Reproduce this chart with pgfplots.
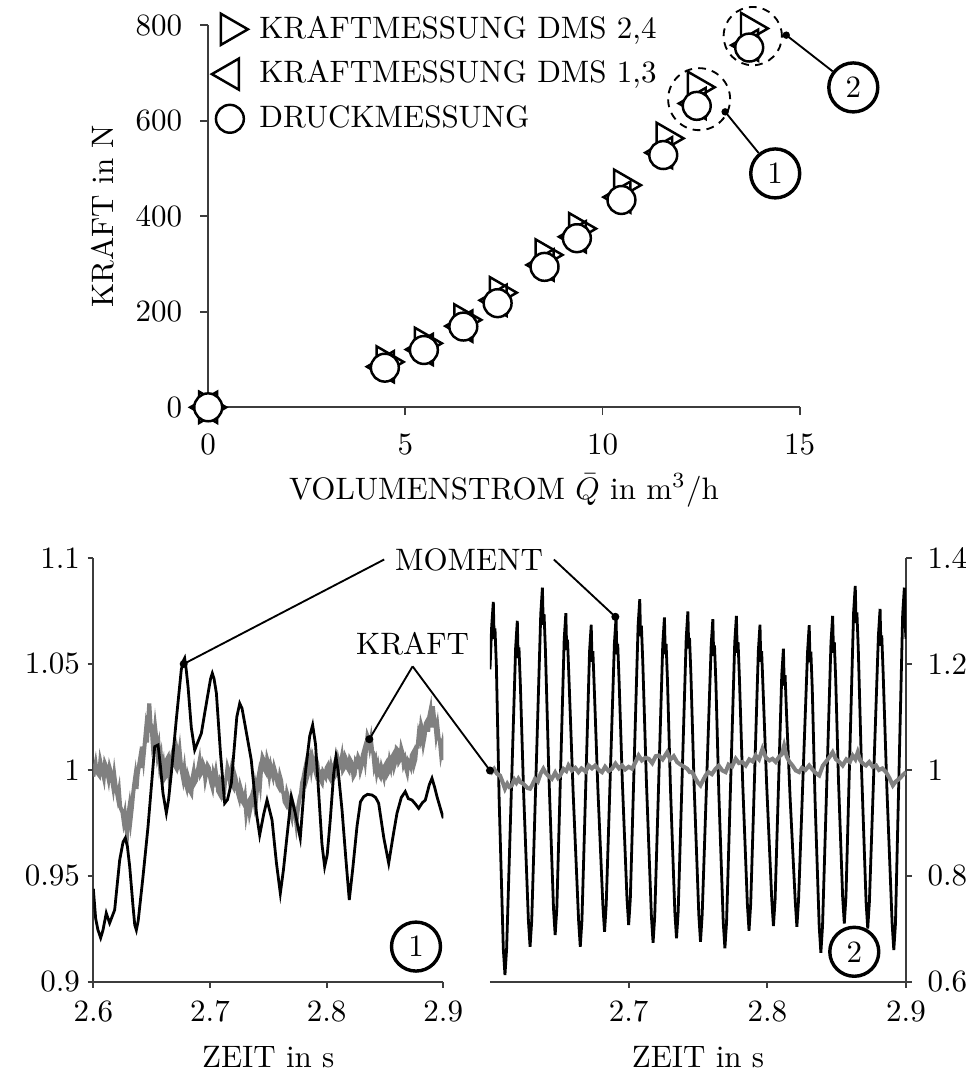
\documentclass[border=0pt]{standalone}
\usepackage{pgfplots}
\pgfplotsset{compat=1.18}
\definecolor{axgray}{RGB}{60,60,60}
\definecolor{kraftgray}{RGB}{128,128,128}
\begin{document}
\begin{tikzpicture}
\useasboundingbox (0,0) rectangle (311.3pt,347.1pt);
\pgfplotsset{
  every non boxed x axis/.append style={x axis line style={-}, xtick align=outside},
  every non boxed y axis/.append style={y axis line style={-}, ytick align=outside},
  myaxis/.style={
    scale only axis, anchor=south west,
    axis line style={-, line width=0.6pt, axgray},
    every tick/.style={line width=0.6pt, axgray},
    tick align=outside,
    enlargelimits=false,
  }
}
% ---------------- top axis ----------------
\begin{axis}[myaxis, at={(67.16pt,215.7pt)}, width=190.8pt, height=123.3pt,
  xmin=0, xmax=15, ymin=0, ymax=800,
  axis x line=bottom, axis y line=left, clip=false,
  major tick length=2.5pt,
  xtick={0,5,10,15}, ytick={0,200,400,600,800},
  xticklabel style={yshift=-2.7pt},
  yticklabel style={xshift=-2.4pt},
  xlabel={VOLUMENSTROM $\bar{Q}$ in m$^3$/h},
  ylabel={KRAFT in N},
  every axis x label/.style={at={(axis description cs:0.5,-0.2401)},anchor=base},
  every axis y label/.style={at={(axis description cs:-0.1593,0.5)},rotate=90,anchor=base},
  legend style={draw=none, fill=none, at={([xshift=1pt]axis description cs:0,1.042)}, anchor=north west, row sep=1.8pt, inner sep=0pt,
    /tikz/every odd column/.append style={column sep=1.7pt}},
  legend cell align=left,
]
\addplot[only marks, mark=triangle, mark size=5.8pt, mark options={rotate=-90, fill=white, draw=black, line width=0.8pt}]
 table {
0 0
4.50 95
5.47 134
6.47 183
7.37 240
8.53 319
9.38 374
10.52 465
11.60 563
12.39 670
13.74 793
};
\addlegendentry{KRAFTMESSUNG DMS 2,4}
\addplot[only marks, mark=triangle, mark size=5.8pt, mark options={rotate=90, fill=white, draw=black, line width=0.8pt}]
 table {
0 0
4.48 85
5.47 121
6.47 170
7.34 224
8.53 298
9.35 357
10.48 440
11.54 533
12.39 636
13.72 758
};
\addlegendentry{KRAFTMESSUNG DMS 1,3}
\addplot[only marks, mark=*, mark size=4.5pt, mark options={fill=white, draw=black, line width=0.8pt}]
 table {
0 0
4.48 83
5.47 120
6.47 169
7.34 218
8.53 294
9.35 354
10.48 434
11.54 528
12.39 631
13.72 753
};
\addlegendentry{DRUCKMESSUNG}
\draw[dashed, dash pattern=on 2.5pt off 2pt, line width=0.6pt] (axis cs:12.45,645) circle[radius=10pt];
\draw[dashed, dash pattern=on 2.5pt off 2pt, line width=0.6pt] (axis cs:13.81,777) circle[radius=9.4pt];
\node[draw, circle, line width=1.1pt, minimum size=15.8pt, inner sep=0pt] (ct1) at (axis cs:14.38,489.6) {1};
\node[draw, circle, line width=1.1pt, minimum size=15.8pt, inner sep=0pt] (ct2) at (axis cs:16.36,669.6) {2};
\draw[line width=0.6pt] (axis cs:13.11,618.5) -- (ct1);
\draw[line width=0.6pt] (axis cs:14.66,779) -- (ct2);
\fill (axis cs:13.11,618.5) circle[radius=1.2pt];
\fill (axis cs:14.66,779) circle[radius=1.2pt];
\end{axis}
% ---------------- bottom left axis ----------------
\begin{axis}[myaxis, at={(30.1pt,30.32pt)}, width=112.9pt, height=136.8pt,
  xmin=2.6, xmax=2.9, ymin=0.9, ymax=1.1,
  axis x line=bottom, axis y line=left,
  major tick length=1.8pt,
  xtick={2.6,2.7,2.8,2.9}, xticklabels={2.6,2.7,2.8,2.9},
  ytick={0.9,0.95,1,1.05,1.1}, yticklabels={0.9,0.95,1,1.05,1.1},
  xticklabel style={yshift=-0.8pt},
  yticklabel style={xshift=1pt},
  xlabel={ZEIT in s},
  every axis x label/.style={at={(axis description cs:0.5,-0.2027)},anchor=base},
]
\addplot[kraftgray, line width=1.3pt] table {
2.600 0.9969
2.602 1.0030
2.603 0.9990
2.605 0.9975
2.606 1.0040
2.607 1.0015
2.609 0.9965
2.610 1.0030
2.611 1.0016
2.613 0.9960
2.614 1.0010
2.615 0.9990
2.617 0.9921
2.618 0.9975
2.619 0.9930
2.621 0.9870
2.622 0.9900
2.623 0.9827
2.625 0.9800
2.626 0.9760
2.627 0.9790
2.628 0.9730
2.629 0.9700
2.630 0.9790
2.631 0.9827
2.632 0.9770
2.633 0.9820
2.634 0.9880
2.635 0.9930
2.636 0.9969
2.637 0.9910
2.638 0.9980
2.640 1.0050
2.641 1.0010
2.642 1.0110
2.643 1.0060
2.644 1.0120
2.645 1.0180
2.646 1.0130
2.647 1.0236
2.648 1.0314
2.649 1.0220
2.650 1.0200
2.651 1.0120
2.652 1.0142
2.653 1.0200
2.654 1.0150
2.655 1.0080
2.656 1.0110
2.657 1.0030
2.658 1.0060
2.659 0.9990
2.660 1.0020
2.661 0.9960
2.662 0.9969
2.663 1.0050
2.664 1.0060
2.665 0.9990
2.666 1.0030
2.667 1.0047
2.668 1.0080
2.669 1.0100
2.670 1.0020
2.671 1.0010
2.672 1.0080
2.673 1.0050
2.674 1.0090
2.675 1.0030
2.676 0.9990
2.677 0.9960
2.678 1.0000
2.679 0.9940
2.680 0.9920
2.681 0.9970
2.682 0.9950
2.683 0.9900
2.684 0.9890
2.685 0.9960
2.686 0.9990
2.687 0.9940
2.688 0.9950
2.689 0.9990
2.690 1.0010
2.691 1.0040
2.692 0.9980
2.693 0.9990
2.694 1.0030
2.695 1.0016
2.696 0.9960
2.697 0.9990
2.698 1.0020
2.699 1.0010
2.700 0.9969
2.701 0.9940
2.702 0.9920
2.703 0.9980
2.704 0.9960
2.705 0.9990
2.706 0.9950
2.707 0.9900
2.708 0.9890
2.709 0.9950
2.710 0.9940
2.711 0.9880
2.712 0.9890
2.713 0.9950
2.714 0.9960
2.715 1.0010
2.716 0.9990
2.717 0.9950
2.718 0.9985
2.719 0.9930
2.720 0.9920
2.721 0.9980
2.722 0.9960
2.723 0.9921
2.724 0.9890
2.725 0.9870
2.726 0.9920
2.727 0.9900
2.728 0.9850
2.729 0.9840
2.730 0.9870
2.731 0.9800
2.732 0.9840
2.733 0.9850
2.734 0.9800
2.735 0.9827
2.736 0.9880
2.737 0.9900
2.738 0.9860
2.739 0.9920
2.740 0.9890
2.741 0.9950
2.742 0.9980
2.743 0.9940
2.744 1.0020
2.745 1.0060
2.746 1.0047
2.747 1.0000
2.748 0.9990
2.749 1.0050
2.750 1.0030
2.751 0.9980
2.752 1.0016
2.753 0.9990
2.754 0.9970
2.755 1.0010
2.756 0.9990
2.757 0.9969
2.758 0.9930
2.759 0.9920
2.760 0.9970
2.761 0.9950
2.762 0.9900
2.763 0.9890
2.764 0.9850
2.765 0.9840
2.766 0.9890
2.767 0.9870
2.768 0.9827
2.769 0.9800
2.770 0.9780
2.771 0.9840
2.772 0.9820
2.773 0.9796
2.774 0.9750
2.775 0.9800
2.776 0.9840
2.777 0.9870
2.778 0.9890
2.779 0.9940
2.780 0.9960
2.781 0.9990
2.782 1.0016
2.783 0.9960
2.784 0.9980
2.785 1.0040
2.786 1.0060
2.787 1.0010
2.788 1.0047
2.789 1.0020
2.790 1.0000
2.791 1.0050
2.792 1.0030
2.793 0.9980
2.794 0.9985
2.795 0.9950
2.796 0.9940
2.797 0.9990
2.798 0.9980
2.799 0.9969
2.800 1.0010
2.801 1.0020
2.802 0.9970
2.803 0.9960
2.804 1.0010
2.805 0.9985
2.806 1.0010
2.807 1.0030
2.808 0.9980
2.809 0.9990
2.810 1.0040
2.811 1.0016
2.812 1.0030
2.813 1.0060
2.814 1.0000
2.815 1.0010
2.816 1.0060
2.817 1.0047
2.818 1.0010
2.819 1.0000
2.820 1.0050
2.821 1.0040
2.822 1.0016
2.823 0.9970
2.824 0.9980
2.825 1.0040
2.826 1.0030
2.827 1.0060
2.828 1.0047
2.829 1.0000
2.830 1.0020
2.831 1.0070
2.832 1.0090
2.833 1.0050
2.834 1.0110
2.835 1.0160
2.836 1.0145
2.837 1.0110
2.838 1.0142
2.839 1.0090
2.840 1.0080
2.841 1.0020
2.842 1.0040
2.843 0.9990
2.844 1.0016
2.845 0.9980
2.846 0.9970
2.847 1.0010
2.848 0.9990
2.849 0.9969
2.850 1.0020
2.851 1.0030
2.852 0.9980
2.853 0.9990
2.854 1.0040
2.855 1.0016
2.856 1.0060
2.857 1.0070
2.858 1.0020
2.859 1.0040
2.860 1.0100
2.861 1.0094
2.862 1.0040
2.863 1.0050
2.864 1.0100
2.865 1.0080
2.866 1.0030
2.867 1.0047
2.868 1.0010
2.869 0.9990
2.870 1.0040
2.871 1.0030
2.872 1.0016
2.873 1.0070
2.874 1.0080
2.875 1.0030
2.876 1.0050
2.877 1.0110
2.878 1.0110
2.879 1.0170
2.880 1.0150
2.881 1.0210
2.882 1.0189
2.883 1.0130
2.884 1.0160
2.885 1.0220
2.886 1.0230
2.887 1.0180
2.888 1.0252
2.889 1.0280
2.890 1.0200
2.891 1.0300
2.892 1.0250
2.893 1.0230
2.894 1.0170
2.895 1.0204
2.896 1.0150
2.897 1.0140
2.898 1.0080
2.899 1.0110
2.900 1.0047
};
\addplot[black, line width=0.9pt] table {
2.6000 0.9440
2.6020 0.9300
2.6040 0.9245
2.6063 0.9208
2.6083 0.9245
2.6111 0.9325
2.6140 0.9278
2.6183 0.9340
2.6226 0.9575
2.6255 0.9660
2.6274 0.9679
2.6292 0.9640
2.6312 0.9544
2.6340 0.9360
2.6355 0.9270
2.6369 0.9245
2.6385 0.9290
2.6426 0.9497
2.6469 0.9733
2.6526 1.0110
2.6555 1.0118
2.6575 1.0020
2.6597 0.9891
2.6626 0.9797
2.6645 0.9860
2.6669 0.9986
2.6711 1.0236
2.6754 1.0472
2.6772 1.0515
2.6783 1.0527
2.6795 1.0480
2.6812 1.0393
2.6840 1.0200
2.6869 1.0094
2.6926 1.0173
2.6969 1.0314
2.7005 1.0430
2.7020 1.0456
2.7035 1.0430
2.7055 1.0362
2.7090 1.0080
2.7126 0.9843
2.7150 0.9860
2.7183 0.9937
2.7230 1.0250
2.7255 1.0314
2.7275 1.0290
2.7298 1.0220
2.7354 1.0047
2.7400 0.9790
2.7426 0.9693
2.7460 0.9790
2.7489 0.9858
2.7532 0.9764
2.7570 0.9560
2.7603 0.9418
2.7630 0.9530
2.7660 0.9686
2.7697 0.9874
2.7731 0.9796
2.7774 0.9678
2.7817 0.9984
2.7855 1.0160
2.7880 1.0212
2.7905 1.0120
2.7932 0.9890
2.7960 0.9650
2.7983 0.9544
2.8005 0.9600
2.8031 0.9764
2.8060 0.9980
2.8080 1.0063
2.8100 0.9990
2.8132 0.9811
2.8165 0.9580
2.8194 0.9387
2.8225 0.9540
2.8260 0.9733
2.8290 0.9850
2.8318 0.9874
2.8350 0.9885
2.8389 0.9882
2.8420 0.9870
2.8446 0.9843
2.8490 0.9680
2.8532 0.9560
2.8570 0.9690
2.8603 0.9796
2.8640 0.9870
2.8674 0.9898
2.8700 0.9865
2.8732 0.9858
2.8760 0.9840
2.8789 0.9819
2.8820 0.9845
2.8846 0.9858
2.8880 0.9930
2.8903 0.9961
2.8925 0.9920
2.8946 0.9874
2.9000 0.9772
};
\coordinate (mL) at (axis cs:2.6775,1.050);
\coordinate (kL) at (axis cs:2.8366,1.0145);
\coordinate (one) at (axis cs:2.8766,0.9167);
\end{axis}
% ---------------- bottom right axis ----------------
\begin{axis}[myaxis, at={(158.06pt,30.32pt)}, width=134.2pt, height=136.8pt,
  xmin=2.6, xmax=2.9, ymin=0.6, ymax=1.4,
  axis x line=bottom, axis y line=right,
  major tick length=1.8pt,
  xtick={2.7,2.8,2.9}, xticklabels={2.7,2.8,2.9},
  ytick={0.6,0.8,1,1.2,1.4}, yticklabels={0.6,0.8,1,1.2,1.4},
  xticklabel style={yshift=-0.8pt},
  yticklabel style={xshift=1.6pt},
  xlabel={ZEIT in s},
  every axis x label/.style={at={(axis description cs:0.5,-0.2027)},anchor=base},
]
\addplot[black, line width=0.9pt] table {
2.6000 1.190
2.6012 1.270
2.6024 1.3172
2.6030 1.247
2.6036 1.267
2.6046 1.197
2.6066 0.945
2.6096 0.663
2.6108 0.6132
2.6120 0.663
2.61525 0.947
2.6185 1.231
2.6197 1.2814
2.6203 1.211
2.6209 1.231
2.6219 1.161
2.6243 0.954
2.6277 0.716
2.6289 0.6664
2.6301 0.716
2.63335 1.005
2.6366 1.294
2.6378 1.3441
2.6384 1.274
2.6390 1.294
2.6400 1.224
2.6424 0.996
2.6458 0.739
2.6470 0.6885
2.6482 0.739
2.65085 0.992
2.6535 1.246
2.6547 1.2959
2.6553 1.226
2.6559 1.246
2.6569 1.176
2.6599 0.961
2.6639 0.716
2.6651 0.6664
2.6663 0.716
2.66905 0.970
2.6718 1.224
2.6730 1.2739
2.6736 1.204
2.6742 1.224
2.6752 1.154
2.6778 0.964
2.6814 0.745
2.6826 0.6947
2.6838 0.745
2.68675 0.991
2.6897 1.238
2.6909 1.2876
2.6915 1.218
2.6921 1.238
2.6931 1.168
2.69545 0.977
2.6988 0.757
2.7000 0.7073
2.7012 0.757
2.7040 1.015
2.7068 1.272
2.7080 1.3223
2.7086 1.252
2.7092 1.272
2.7102 1.202
2.7128 0.978
2.7164 0.724
2.7176 0.674
2.7188 0.724
2.7217 0.981
2.7246 1.238
2.7258 1.2876
2.7264 1.218
2.7270 1.238
2.7280 1.168
2.73015 0.965
2.7333 0.732
2.7345 0.6823
2.7357 0.732
2.7386 0.991
2.7415 1.249
2.7427 1.2989
2.7433 1.229
2.7439 1.249
2.7449 1.179
2.74725 0.967
2.7506 0.726
2.7518 0.6759
2.7530 0.726
2.75625 0.980
2.7595 1.235
2.7607 1.2846
2.7613 1.215
2.7619 1.235
2.7629 1.165
2.76505 0.954
2.7682 0.713
2.7694 0.6634
2.7706 0.713
2.77355 0.977
2.7765 1.241
2.7777 1.2908
2.7783 1.221
2.7789 1.241
2.7799 1.171
2.78225 0.974
2.7856 0.747
2.7868 0.6966
2.7880 0.747
2.79075 0.985
2.7935 1.224
2.7947 1.2739
2.7953 1.204
2.7959 1.224
2.7969 1.154
2.79955 0.970
2.8032 0.755
2.8044 0.7054
2.8056 0.755
2.8080 0.966
2.8104 1.179
2.8116 1.2287
2.8122 1.159
2.8128 1.179
2.8138 1.109
2.81645 0.946
2.8201 0.754
2.8213 0.7041
2.8225 0.754
2.82575 0.989
2.8290 1.223
2.8302 1.2733
2.8308 1.203
2.8314 1.223
2.8324 1.153
2.8344 0.944
2.8374 0.705
2.8386 0.6552
2.8398 0.705
2.84285 0.973
2.8459 1.241
2.8471 1.2908
2.8477 1.221
2.8483 1.241
2.8493 1.171
2.8513 0.981
2.8543 0.761
2.8555 0.7105
2.8567 0.761
2.85945 1.029
2.8622 1.297
2.8634 1.3473
2.8640 1.277
2.8646 1.297
2.8656 1.227
2.8679 1.004
2.8712 0.751
2.8724 0.7011
2.8736 0.751
2.87685 1.003
2.8801 1.254
2.8813 1.304
2.8819 1.234
2.8825 1.254
2.8835 1.184
2.88625 0.962
2.8900 0.710
2.8912 0.6602
2.8924 0.710
2.8950 1.002
2.8976 1.294
2.8988 1.3441
2.8994 1.274
2.9000 1.2475
};
\addplot[kraftgray, line width=1.3pt] table {
2.6000 1.0000
2.6012 0.9959
2.6030 1.0020
2.6050 0.9930
2.6072 0.9896
2.6090 0.9780
2.6108 0.9646
2.6125 0.9740
2.6140 0.9680
2.6157 0.9708
2.6175 0.9820
2.6190 0.9760
2.6205 0.9834
2.6220 0.9770
2.6240 0.9740
2.6253 0.9708
2.6270 0.9660
2.6289 0.9646
2.6305 0.9720
2.6325 0.9834
2.6345 0.9780
2.6365 0.9930
2.6385 1.0023
2.6400 0.9950
2.6420 0.9890
2.6446 0.9834
2.6470 0.9950
2.6490 0.9850
2.6506 0.9896
2.6530 1.0020
2.6550 0.9980
2.6566 1.0085
2.6590 0.9990
2.6615 1.0040
2.6638 0.9959
2.6660 1.0030
2.6690 0.9970
2.6711 1.0085
2.6735 1.0030
2.6759 1.0085
2.6785 1.0000
2.6808 0.9959
2.6830 1.0060
2.6855 0.9980
2.6880 1.0023
2.6905 1.0120
2.6930 1.0030
2.6952 1.0085
2.6975 1.0010
2.7000 1.0060
2.7025 1.0023
2.7050 1.0150
2.7072 1.0273
2.7095 1.0180
2.7120 1.0230
2.7145 1.0211
2.7170 1.0130
2.7195 1.0260
2.7217 1.0273
2.7245 1.0200
2.7278 1.0335
2.7300 1.0200
2.7325 1.0260
2.7350 1.0147
2.7375 1.0100
2.7400 1.0060
2.7422 1.0023
2.7440 0.9960
2.7458 0.9959
2.7480 0.9850
2.7500 0.9760
2.7518 0.9708
2.7535 0.9800
2.7555 0.9896
2.7575 0.9960
2.7600 0.9920
2.7627 1.0023
2.7650 1.0080
2.7675 0.9990
2.7699 0.9959
2.7720 1.0100
2.7745 1.0060
2.7772 1.0211
2.7795 1.0130
2.7820 1.0150
2.7844 1.0085
2.7870 1.0200
2.7895 1.0160
2.7916 1.0273
2.7940 1.0200
2.7965 1.0399
2.7990 1.0230
2.8015 1.0180
2.8037 1.0211
2.8060 1.0150
2.8085 1.0250
2.8105 1.0300
2.8121 1.0461
2.8140 1.0250
2.8160 1.0150
2.8181 1.0085
2.8205 0.9990
2.8229 0.9959
2.8250 1.0040
2.8275 1.0000
2.8302 1.0085
2.8325 1.0010
2.8350 0.9940
2.8374 0.9896
2.8400 1.0080
2.8430 1.0180
2.8450 1.0250
2.8471 1.0335
2.8495 1.0200
2.8520 1.0150
2.8543 1.0085
2.8570 1.0200
2.8595 1.0150
2.8615 1.0273
2.8635 1.0200
2.8652 1.0335
2.8670 1.0180
2.8690 1.0120
2.8711 1.0085
2.8735 1.0150
2.8760 1.0060
2.8784 1.0085
2.8805 1.0000
2.8830 1.0030
2.8856 0.9959
2.8880 0.9850
2.8905 0.9708
2.8925 0.9780
2.8952 0.9834
2.8975 0.9900
2.9000 0.9959
};
\coordinate (mR) at (axis cs:2.6904,1.289);
\coordinate (kR) at (axis cs:2.6,0.999);
\coordinate (two) at (axis cs:2.8627,0.657);
\end{axis}
% ---------------- annotations ----------------
\node[anchor=base] (mom) at (151.3pt,163.2pt) {MOMENT};
\node[anchor=base] (kr) at (133.1pt,135.9pt) {KRAFT};
\draw[line width=0.6pt] (mom.west) -- (mL);
\draw[line width=0.6pt] (mom.east) -- (mR);
\draw[line width=0.6pt] (kr.south) -- (kL);
\draw[line width=0.6pt] (kr.south) -- (kR);
\fill (mL) circle[radius=1.3pt];
\fill (mR) circle[radius=1.3pt];
\fill (kL) circle[radius=1.3pt];
\fill (kR) circle[radius=1.3pt];
\node[draw, circle, fill=white, line width=1.1pt, minimum size=15.8pt, inner sep=0pt] at (one) {1};
\node[draw, circle, fill=white, line width=1.1pt, minimum size=15.8pt, inner sep=0pt] at (two) {2};
\end{tikzpicture}
\end{document}
